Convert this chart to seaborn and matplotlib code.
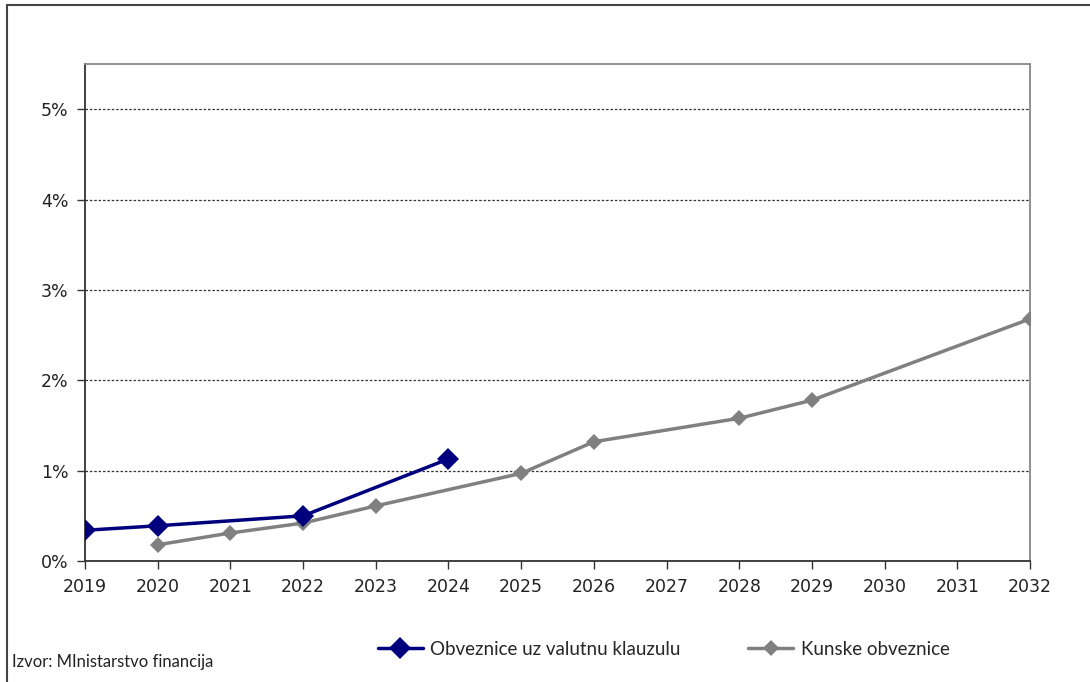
import pandas as pd
import seaborn as sns
from matplotlib import pyplot as plt
from matplotlib.patches import Rectangle

# godine na osi x
years = [2019, 2020, 2021, 2022, 2023, 2024, 2025, 2026, 2027, 2028, 2029, 2030, 2031, 2032]

# Obveznice uz valutnu klauzulu
fx_years = [2019, 2020, 2022, 2024]
fx_vals = [0.34, 0.39, 0.50, 1.13]

# Kunske obveznice
kn_years = [2020, 2021, 2022, 2023, 2025, 2026, 2028, 2029, 2032]
kn_vals = [0.18, 0.31, 0.42, 0.61, 0.97, 1.32, 1.58, 1.78, 2.68]

y_ticks = [0, 1, 2, 3, 4, 5]
y_labels = ['0%', '1%', '2%', '3%', '4%', '5%']

sns.set_style('white')
plt.rcParams['font.family'] = ['DejaVu Sans']

fig = plt.figure(figsize=(10.9, 6.82), dpi=100)
ax = fig.add_axes([0.078, 0.1774, 0.867, 0.7286])

fx = pd.DataFrame({'year': fx_years, 'val': fx_vals})
kn = pd.DataFrame({'year': kn_years, 'val': kn_vals})

sns.lineplot(data=kn, x='year', y='val', ax=ax, color='#808080', lw=2.5,
             marker='D', markersize=8, markeredgewidth=0,
             label='Kunske obveznice', zorder=3)
sns.lineplot(data=fx, x='year', y='val', ax=ax, color='#00007f', lw=2.5,
             marker='D', markersize=11, markeredgewidth=0,
             label='Obveznice uz valutnu klauzulu', zorder=4)

ax.set_xlim(2019, 2032)
ax.set_ylim(0, 5.5)
ax.set_xticks(years)
ax.set_xticklabels([str(y) for y in years], fontsize=12.5, color='#222222')
ax.set_yticks(y_ticks)
ax.set_yticklabels(y_labels, fontsize=12.5, color='#222222')
ax.set_xlabel('')
ax.set_ylabel('')
for y in y_ticks[1:]:
    ax.axhline(y, color='#333333', lw=0.9, ls=(0, (2, 1.5)), zorder=1)

ax.tick_params(axis='both', which='major', direction='out', length=6,
               width=1, color='#333333', left=True, bottom=True, pad=6)
for s in ['left', 'bottom']:
    ax.spines[s].set_color('#333333')
    ax.spines[s].set_linewidth(1.3)
for s in ['top', 'right']:
    ax.spines[s].set_color('#888888')
    ax.spines[s].set_linewidth(1.3)

h, l = ax.get_legend_handles_labels()
ax.get_legend().remove()
fig.legend(h[::-1], l[::-1], loc='center', bbox_to_anchor=(0.609, 0.048), ncol=2,
           frameon=False, prop={'family': 'Lato', 'size': 13.5},
           handlelength=2.4, columnspacing=3.6, handletextpad=0.4)

fig.text(0.011, 0.029, 'Izvor: MInistarstvo financija', fontsize=12,
         family='Lato', color='#222222', va='center')

# okvir slike
fig.patches.append(Rectangle((0.0065, -0.02), 1.1, 1.0127, transform=fig.transFigure,
                             fill=False, edgecolor='#444444', lw=1.5))

fig.savefig('out.png', dpi=100)
